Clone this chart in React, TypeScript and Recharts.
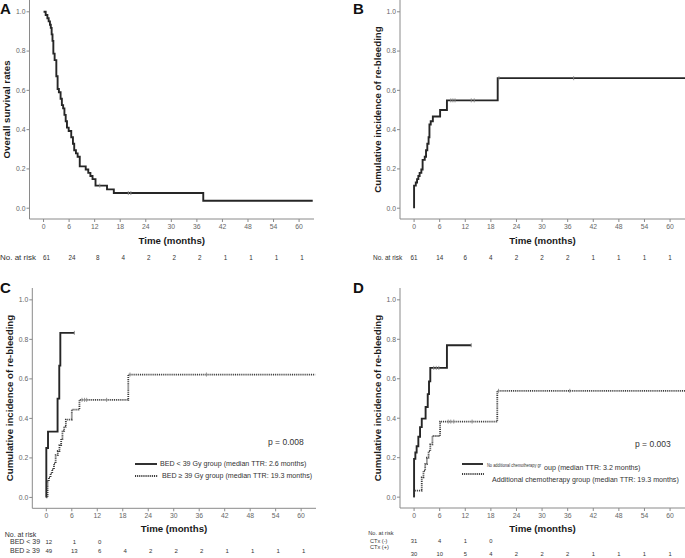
import React from "react"
import { ComposedChart, Line, Scatter, XAxis, YAxis } from "recharts"

const FONT = '"Liberation Sans", Arial, sans-serif'
const MONTH_TICKS = [0, 6, 12, 18, 24, 30, 36, 42, 48, 54, 60]
const RATE_TICKS = [0, 0.2, 0.4, 0.6, 0.8, 1.0]
const X_DOMAIN: [number, number] = [-3.3, 63.5]
const Y_DOMAIN: [number, number] = [-0.055, 1.06]

// A: overall survival
const osTime = [0, 0.5, 0.9, 1.2, 1.5, 1.7, 1.9, 2.1, 2.3, 2.6, 3.0, 3.3, 3.6, 4.0, 4.3, 4.6, 4.9, 5.2, 5.5, 5.9, 6.5, 6.9, 7.2, 7.6, 8.0, 8.5, 9.9, 10.5, 11.0, 11.5, 12.2, 14.9, 16.5, 37.5, 63.2]
const osRate = [1.0, 0.984, 0.967, 0.951, 0.934, 0.918, 0.885, 0.852, 0.787, 0.754, 0.672, 0.607, 0.59, 0.557, 0.525, 0.508, 0.475, 0.443, 0.41, 0.393, 0.361, 0.328, 0.295, 0.279, 0.262, 0.213, 0.197, 0.18, 0.164, 0.148, 0.115, 0.096, 0.077, 0.038, 0.038]
const osCensorTime = [13.2, 19.9, 20.5]
const osCensorRate = [0.115, 0.077, 0.077]
const osAtRisk = [61, 24, 8, 4, 2, 2, 2, 1, 1, 1, 1]

// B: cumulative re-bleeding, all patients
const rbTime = [0, 0, 0.4, 0.7, 1.0, 1.3, 1.7, 2.0, 2.5, 2.8, 3.1, 3.4, 3.6, 3.9, 4.4, 6.1, 7.7, 19.6, 63.5]
const rbRate = [0, 0.115, 0.131, 0.148, 0.164, 0.18, 0.197, 0.246, 0.262, 0.295, 0.328, 0.361, 0.426, 0.443, 0.467, 0.5, 0.549, 0.662, 0.662]
const rbCensorTime = [8.6, 9.1, 9.6, 13.4, 14.1, 19.9, 37.4]
const rbCensorRate = [0.549, 0.549, 0.549, 0.549, 0.549, 0.662, 0.662]
const rbAtRisk = [61, 14, 6, 4, 2, 2, 2, 1, 1, 1, 1]

// C: by BED
const bedLowTime = [0, 0, 0.4, 2.65, 3.05, 3.3, 6.6]
const bedLowRate = [0, 0.25, 0.333, 0.5, 0.667, 0.833, 0.833]
const bedLowCensorTime = [6.6]
const bedLowCensorRate = [0.833]
const bedHighTime = [0, 0.3, 0.6, 1.0, 1.4, 1.8, 2.2, 2.7, 3.1, 3.5, 3.8, 4.2, 4.6, 6.0, 7.8, 19.3, 63.3]
const bedHighRate = [0, 0.082, 0.102, 0.122, 0.143, 0.172, 0.214, 0.235, 0.265, 0.296, 0.337, 0.358, 0.394, 0.444, 0.494, 0.622, 0.622]
const bedHighCensorTime = [8.4, 9.0, 9.5, 14.2, 19.7, 37.7]
const bedHighCensorRate = [0.494, 0.494, 0.494, 0.494, 0.622, 0.622]
const bedLowAtRisk = [12, 1, 0]
const bedHighAtRisk = [49, 13, 6, 4, 2, 2, 2, 1, 1, 1, 1]

// D: by additional chemotherapy
const ctxNoTime = [0, 0, 0.3, 0.6, 1.0, 1.4, 1.8, 2.7, 3.2, 3.5, 3.8, 7.7, 13.4]
const ctxNoRate = [0, 0.194, 0.226, 0.258, 0.306, 0.355, 0.398, 0.457, 0.522, 0.587, 0.655, 0.77, 0.77]
const ctxNoCensorTime = [4.6, 5.2, 5.8, 13.4]
const ctxNoCensorRate = [0.655, 0.655, 0.655, 0.77]
const ctxYesTime = [0, 0, 1.8, 2.2, 2.6, 3.0, 3.4, 3.8, 4.3, 6.1, 19.5, 63.5]
const ctxYesRate = [0, 0.033, 0.1, 0.133, 0.167, 0.2, 0.233, 0.267, 0.31, 0.383, 0.539, 0.539]
const ctxYesCensorTime = [8.0, 8.6, 9.3, 13.6, 19.8, 36.5]
const ctxYesCensorRate = [0.383, 0.383, 0.383, 0.383, 0.539, 0.539]
const ctxNoAtRisk = [31, 4, 1, 0]
const ctxYesAtRisk = [30, 10, 5, 4, 2, 2, 2, 1, 1, 1, 1]

const toPoints = (t: number[], v: number[]) => t.map((x, i) => ({ t: x, v: v[i] }))

type Curve = { points: { t: number; v: number }[]; censor: { t: number; v: number }[]; dotted?: boolean }
type RiskRow = { counts: number[]; dy: number }

function CensorMark(p: any) {
  if (p.cx == null || p.cy == null) return null
  return <line x1={p.cx} x2={p.cx} y1={p.cy - 2} y2={p.cy + 2} stroke="#8a8a8a" strokeWidth={0.9} />
}

function makeRiskTick(rows: RiskRow[], shift: number, font: number) {
  return (p: any) => {
    const value = p.payload.value
    const i = MONTH_TICKS.indexOf(value)
    const axisY = p.y - 5
    return (
      <g>
        <text x={p.x} y={p.y} dy="0.71em" textAnchor="middle" fontSize={6.8} fill="#666" fontFamily={FONT}>
          {value}
        </text>
        {rows.map((r, k) =>
          r.counts[i] === undefined ? null : (
            <text key={k} x={p.x + shift} y={axisY + r.dy} dominantBaseline="central" textAnchor="middle" fontSize={font} fill="#333" fontFamily={FONT}>
              {r.counts[i]}
            </text>
          )
        )}
      </g>
    )
  }
}

type PanelProps = {
  left: number
  top: number
  width: number
  height: number
  yAxisWidth: number
  marginTop: number
  marginRight: number
  xAxisHeight: number
  curves: Curve[]
  riskRows: RiskRow[]
  riskShift: number
  riskFont: number
  children?: React.ReactNode
}

function KmPanel(props: PanelProps) {
  const { left, top, width, height, yAxisWidth, marginTop, marginRight, xAxisHeight, curves, riskRows, riskShift, riskFont, children } = props
  return (
    <div style={{ position: "absolute", left, top, width, height }}>
      <ComposedChart width={width} height={height} margin={{ top: marginTop, right: marginRight, bottom: 0, left: 0 }}>
        <XAxis
          type="number"
          dataKey="t"
          domain={X_DOMAIN}
          ticks={MONTH_TICKS}
          interval={0}
          allowDataOverflow
          height={xAxisHeight}
          tickSize={3}
          tickMargin={2}
          stroke="#8a8a8a"
          tick={makeRiskTick(riskRows, riskShift, riskFont)}
        />
        <YAxis
          type="number"
          domain={Y_DOMAIN}
          ticks={RATE_TICKS}
          interval={0}
          allowDataOverflow
          width={yAxisWidth}
          tickSize={3}
          tickMargin={1}
          stroke="#8a8a8a"
          tick={{ fontSize: 6.8, fill: "#666", fontFamily: FONT }}
          tickFormatter={(v: number) => v.toFixed(1)}
        />
        {curves.map((c, i) => (
          <Line
            key={`line-${i}`}
            data={c.points}
            dataKey="v"
            type="stepAfter"
            stroke={c.dotted ? "#3a3a3a" : "#262626"}
            strokeWidth={c.dotted ? 1.8 : 1.9}
            strokeDasharray={c.dotted ? "1 0.9" : undefined}
            dot={false}
            activeDot={false}
            isAnimationActive={false}
          />
        ))}
        {curves.map((c, i) => (
          <Scatter key={`cens-${i}`} data={c.censor} dataKey="v" shape={CensorMark} isAnimationActive={false} />
        ))}
      </ComposedChart>
      <svg
        width={width}
        height={height}
        style={{ position: "absolute", left: 0, top: 0, pointerEvents: "none", overflow: "visible" }}
        fontFamily={FONT}
      >
        {children}
      </svg>
    </div>
  )
}

function Letter({ x, y, text }: { x: number; y: number; text: string }) {
  return (
    <text x={x} y={y} fontSize={15} fontWeight="bold" fill="#111">
      {text}
    </text>
  )
}

function YTitle({ x, y, text }: { x: number; y: number; text: string }) {
  return (
    <text x={x} y={y} transform={`rotate(-90 ${x} ${y})`} textAnchor="middle" dominantBaseline="central" fontSize={9.7} fontWeight="bold" fill="#1a1a1a">
      {text}
    </text>
  )
}

function XTitle({ x, y }: { x: number; y: number }) {
  return (
    <text x={x} y={y} textAnchor="middle" dominantBaseline="central" fontSize={9.7} fontWeight="bold" fill="#1a1a1a">
      Time (months)
    </text>
  )
}

function Note({ x, y, size, children, length }: { x: number; y: number; size: number; children: React.ReactNode; length?: number }) {
  return (
    <text
      x={x}
      y={y}
      dominantBaseline="central"
      fontSize={size}
      fill="#333"
      textLength={length}
      lengthAdjust={length ? "spacingAndGlyphs" : undefined}
    >
      {children}
    </text>
  )
}

export default function App() {
  return (
    <div style={{ position: "relative", width: 685, height: 558, background: "#fff", fontFamily: FONT, overflow: "hidden" }}>
      <style>{"body{margin:0}"}</style>

      <KmPanel
        left={0}
        top={0}
        width={340}
        height={280}
        yAxisWidth={29.5}
        marginTop={0}
        marginRight={26}
        xAxisHeight={61}
        curves={[{ points: toPoints(osTime, osRate), censor: toPoints(osCensorTime, osCensorRate) }]}
        riskRows={[{ counts: osAtRisk, dy: 38 }]}
        riskShift={3}
        riskFont={6.3}
      >
        <Letter x={0} y={14} text="A" />
        <YTitle x={6} y={109.5} text="Overall survival rates" />
        <XTitle x={171.75} y={240} />
        <Note x={0} y={257} size={8}>No. at risk</Note>
      </KmPanel>

      <KmPanel
        left={340}
        top={0}
        width={345}
        height={280}
        yAxisWidth={60}
        marginTop={0}
        marginRight={0}
        xAxisHeight={61}
        curves={[{ points: toPoints(rbTime, rbRate), censor: toPoints(rbCensorTime, rbCensorRate) }]}
        riskRows={[{ counts: rbAtRisk, dy: 38 }]}
        riskShift={0}
        riskFont={6.3}
      >
        <Letter x={13} y={14} text="B" />
        <YTitle x={37} y={109.5} text="Cumulative incidence of re-bleeding" />
        <XTitle x={202.5} y={240} />
        <Note x={33} y={257} size={6.5}>No. at risk</Note>
      </KmPanel>

      <KmPanel
        left={0}
        top={280}
        width={340}
        height={278}
        yAxisWidth={32.3}
        marginTop={8}
        marginRight={24}
        xAxisHeight={49.7}
        curves={[
          { points: toPoints(bedLowTime, bedLowRate), censor: toPoints(bedLowCensorTime, bedLowCensorRate) },
          { points: toPoints(bedHighTime, bedHighRate), censor: toPoints(bedHighCensorTime, bedHighCensorRate), dotted: true },
        ]}
        riskRows={[
          { counts: bedLowAtRisk, dy: 33.4 },
          { counts: bedHighAtRisk, dy: 42.4 },
        ]}
        riskShift={2.5}
        riskFont={6}
      >
        <Letter x={0} y={13} text="C" />
        <YTitle x={9} y={118} text="Cumulative incidence of re-bleeding" />
        <XTitle x={174} y={248.3} />
        <Note x={4.7} y={254} size={7}>No. at risk</Note>
        <Note x={10} y={261.7} size={7}>BED &lt; 39</Note>
        <Note x={10} y={270.7} size={7}>BED ≥ 39</Note>
        <line x1={135} x2={157} y1={184} y2={184} stroke="#262626" strokeWidth={1.9} />
        <Note x={160} y={184} size={7.1}>BED &lt; 39 Gy group (median TTR: 2.6 months)</Note>
        <line x1={135} x2={158} y1={196} y2={196} stroke="#3a3a3a" strokeWidth={1.8} strokeDasharray="1 0.9" />
        <Note x={162} y={196} size={7.1}>BED ≥ 39 Gy group (median TTR: 19.3 months)</Note>
        <Note x={268} y={162} size={8.5}>p = 0.008</Note>
      </KmPanel>

      <KmPanel
        left={340}
        top={280}
        width={345}
        height={278}
        yAxisWidth={60}
        marginTop={8}
        marginRight={0}
        xAxisHeight={50}
        curves={[
          { points: toPoints(ctxNoTime, ctxNoRate), censor: toPoints(ctxNoCensorTime, ctxNoCensorRate) },
          { points: toPoints(ctxYesTime, ctxYesRate), censor: toPoints(ctxYesCensorTime, ctxYesCensorRate), dotted: true },
        ]}
        riskRows={[
          { counts: ctxNoAtRisk, dy: 32.7 },
          { counts: ctxYesAtRisk, dy: 46.3 },
        ]}
        riskShift={0}
        riskFont={5.8}
      >
        <Letter x={13} y={13} text="D" />
        <YTitle x={37} y={118} text="Cumulative incidence of re-bleeding" />
        <XTitle x={202.5} y={248.3} />
        <Note x={28.3} y={252.7} size={5.6}>No. at risk</Note>
        <Note x={30} y={260.7} size={5.6}>CTx (-)</Note>
        <Note x={30} y={266.7} size={5.6}>CTx (+)</Note>
        <line x1={122} x2={143} y1={184} y2={184} stroke="#262626" strokeWidth={1.9} />
        <Note x={147} y={184} size={6.2} length={54}>No additional chemotherapy gr</Note>
        <Note x={204} y={187.5} size={7.1}>oup (median TTR: 3.2 months)</Note>
        <line x1={122} x2={144} y1={194} y2={194} stroke="#3a3a3a" strokeWidth={1.8} strokeDasharray="1 0.9" />
        <Note x={152} y={200} size={7.1}>Additional chemotherapy group (median TTR: 19.3 months)</Note>
        <Note x={295} y={164} size={8.5}>p = 0.003</Note>
      </KmPanel>
    </div>
  )
}
